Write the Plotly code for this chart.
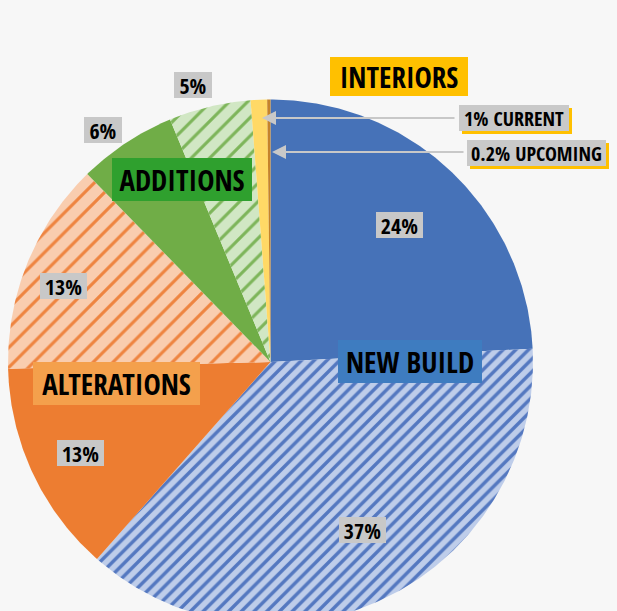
import numpy as np
import plotly.graph_objects as go

# ---------------- data ----------------
segments = ["New Build current", "New Build upcoming",
            "Alterations current", "Alterations upcoming",
            "Additions current", "Additions upcoming",
            "Interiors current", "Interiors upcoming"]
values = [24, 37, 13, 13, 6, 5, 1, 0.2]
pct_labels = ["24%", "37%", "13%", "13%", "6%", "5%", "1% CURRENT", "0.2% UPCOMING"]
group_names = ["NEW BUILD", "ALTERATIONS", "ADDITIONS", "INTERIORS"]

# ---------------- style ----------------
W, H = 617, 611
CX, CY, R = 270.5, 362.0, 262.5  # pie centre / radius in px
FONT = "Open Sans Condensed, Roboto Condensed, sans-serif"
BG = "#f7f7f7"

styles = [
    dict(fill="#4672B8"),
    dict(fill="#BECDEA", hatch="#5478C0", size=9, solidity=0.38),
    dict(fill="#ED7D31"),
    dict(fill="#F9CDAF", hatch="#EE8440", size=14, solidity=0.22),
    dict(fill="#70AD47"),
    dict(fill="#D1E7C4", hatch="#7DB55A", size=13, solidity=0.24),
    dict(fill="#FFD966"),
    dict(fill="#C5832B"),
]

fig = go.Figure()

vals = np.array(values, dtype=float)
frac = vals / vals.sum()
ends = np.cumsum(frac) * 2 * np.pi
starts = ends - frac * 2 * np.pi

for name, a0, a1, st in zip(segments, starts, ends, styles):
    n = max(3, int(np.degrees(a1 - a0)) * 2)
    th = np.linspace(a0, a1, n)
    xs = np.concatenate([[0], np.sin(th), [0]])
    ys = np.concatenate([[0], np.cos(th), [0]])
    kw = dict(x=xs, y=ys, mode="lines", fill="toself", name=name,
              line=dict(width=0, color=st["fill"]), fillcolor=st["fill"],
              hoverinfo="name", showlegend=False)
    if "hatch" in st:
        kw["fillpattern"] = dict(shape="/", bgcolor=st["fill"], fgcolor=st["hatch"],
                                 size=st["size"], solidity=st["solidity"],
                                 fillmode="replace")
    fig.add_trace(go.Scatter(**kw))


def box(text, cx, cy, w, h, bg, size, color="black"):
    return dict(text="<b>" + text + "</b>", x=cx / W, y=1 - cy / H,
                xref="paper", yref="paper", showarrow=False,
                bgcolor=bg, width=w, height=h, borderpad=0, borderwidth=0,
                xanchor="center", yanchor="middle",
                font=dict(size=size, family=FONT, color=color))


annotations = []
shapes = []
# percent labels (positions in px)
pct_pos = [(399, 225), (362.5, 530), (80.5, 453), (63.5, 286), (103, 129.5), (192.5, 84.5)]
for t, (x, y) in zip(pct_labels[:6], pct_pos):
    annotations.append(box(t, x, y, 47 if len(t) > 2 else 38, 26, "#C8C8C8", 22))

# interiors labels with yellow shadow
int_pos = [(514, 118, 110), (536.5, 153, 139)]
for t, (x, y, w) in zip(pct_labels[6:], int_pos):
    h = 26
    shapes.append(dict(type="rect", xref="paper", yref="paper", layer="above",
                       x0=(x - w / 2 + 3) / W, x1=(x + w / 2 + 3) / W,
                       y0=1 - (y + h / 2 + 3) / H, y1=1 - (y - h / 2 + 3) / H,
                       fillcolor="#FFC000", line=dict(width=0)))
    annotations.append(box(t, x, y, w, h, "#C9C9C9", 20))

# group labels
grp = [("NEW BUILD", 410, 361.5, 144, 43, "#3E7CC0"),
       ("ALTERATIONS", 116.5, 383.5, 167, 43, "#F4A04C"),
       ("ADDITIONS", 182, 179.5, 140, 43, "#2FA02E"),
       ("INTERIORS", 399, 76.5, 138, 39, "#FFC000")]
for t, x, y, w, h, c in grp:
    annotations.append(box(t, x, y, w, h, c, 29))

# arrows
for (tipx, y, tailx) in [(262, 118, 456), (272, 152, 465)]:
    annotations.append(dict(text="", x=tipx / W, y=1 - y / H, xref="paper", yref="paper",
                            ax=tailx - tipx, ay=0, axref="pixel", ayref="pixel",
                            showarrow=True, arrowhead=2, arrowsize=1.4, arrowwidth=2,
                            arrowcolor="#C8C8C8"))

fig.update_layout(
    width=W, height=H,
    margin=dict(l=0, r=0, t=0, b=0),
    paper_bgcolor=BG, plot_bgcolor=BG,
    xaxis=dict(range=[-CX / R, (W - CX) / R], visible=False, fixedrange=True),
    yaxis=dict(range=[-(H - CY) / R, CY / R], visible=False, fixedrange=True),
    annotations=annotations,
    shapes=shapes,
    showlegend=False,
)

fig.write_html("out.html", config={"displayModeBar": False},
               post_script="document.body.style.margin='0';document.body.style.overflow='hidden';")
